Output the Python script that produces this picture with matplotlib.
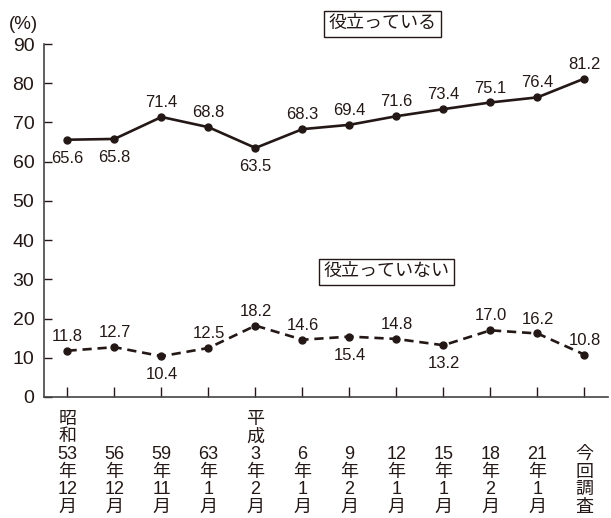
import matplotlib
matplotlib.use("Agg")
import matplotlib.pyplot as plt
import matplotlib.transforms as mtransforms

plt.rcParams['font.family'] = ['Liberation Sans', 'Noto Sans CJK JP', 'DejaVu Sans']

# x categories (vertical Japanese labels, one line per piece)
categories = [
    ['昭', '和', '53', '年', '12', '月'],
    ['56', '年', '12', '月'],
    ['59', '年', '11', '月'],
    ['63', '年', '1', '月'],
    ['平', '成', '3', '年', '2', '月'],
    ['6', '年', '1', '月'],
    ['9', '年', '2', '月'],
    ['12', '年', '1', '月'],
    ['15', '年', '1', '月'],
    ['18', '年', '2', '月'],
    ['21', '年', '1', '月'],
    ['今', '回', '調', '査'],
]
useful = [65.6, 65.8, 71.4, 68.8, 63.5, 68.3, 69.4, 71.6, 73.4, 75.1, 76.4, 81.2]
not_useful = [11.8, 12.7, 10.4, 12.5, 18.2, 14.6, 15.4, 14.8, 13.2, 17.0, 16.2, 10.8]
# label placement: +1 above the point, -1 below
useful_pos = [-1, -1, 1, 1, -1, 1, 1, 1, 1, 1, 1, 1]
not_useful_pos = [1, 1, -1, 1, 1, 1, -1, 1, -1, 1, 1, 1]
yticks = [0, 10, 20, 30, 40, 50, 60, 70, 80, 90]

ink = '#231815'
x = list(range(len(categories)))

fig = plt.figure(figsize=(6.11, 5.18), dpi=100)
ax = fig.add_axes([0.072, 0.2336, 0.923, 0.6814])

ax.plot(x, useful, color=ink, lw=1.9, marker='o', ms=5, zorder=3)
ax.plot(x, not_useful, color=ink, lw=1.9, marker='o', ms=5, dashes=(3.5, 2.2), zorder=3)

for series, pos in [(useful, useful_pos), (not_useful, not_useful_pos)]:
    for i, (v, p) in enumerate(zip(series, pos)):
        if p > 0:
            ax.annotate(f'{v:.1f}', (i, v), xytext=(0, 5), textcoords='offset points',
                        ha='center', va='bottom', fontsize=12, color=ink)
        else:
            ax.annotate(f'{v:.1f}', (i, v), xytext=(0, -8), textcoords='offset points',
                        ha='center', va='top', fontsize=12, color=ink)

ax.set_xlim(-0.5, 11.5)
ax.set_ylim(0, 90)
ax.set_yticks(yticks)
ax.set_yticklabels([str(t) for t in yticks], fontsize=14, color=ink)
ax.set_xticks(x)
ax.set_xticklabels([])
ax.tick_params(axis='y', direction='in', length=6, width=1, pad=7, colors=ink)
ax.tick_params(axis='x', direction='in', length=7, width=1, colors=ink)
for s in ['top', 'right']:
    ax.spines[s].set_visible(False)
for s in ['left', 'bottom']:
    ax.spines[s].set_color('#444444')
    ax.spines[s].set_linewidth(1.2)

# vertical category labels, bottom aligned
trans = mtransforms.blended_transform_factory(ax.transData, fig.transFigure)
for i, parts in enumerate(categories):
    ax.text(i, 0.004, '\n'.join(parts), transform=trans, ha='center', va='bottom',
            multialignment='center', fontsize=13, color=ink, linespacing=1.05)

box = dict(boxstyle='square,pad=0.25', fc='white', ec=ink, lw=1)
ax.text(6.7, 95.2, '役立っている', ha='center', va='center', fontsize=13, color=ink,
        bbox=box, clip_on=False)
ax.text(6.79, 31.9, '役立っていない', ha='center', va='center', fontsize=13, color=ink,
        bbox=box)

fig.text(0.039, 0.953, '(%)', ha='center', va='center', fontsize=13.5, color=ink)

fig.savefig('out.png', dpi=100)
